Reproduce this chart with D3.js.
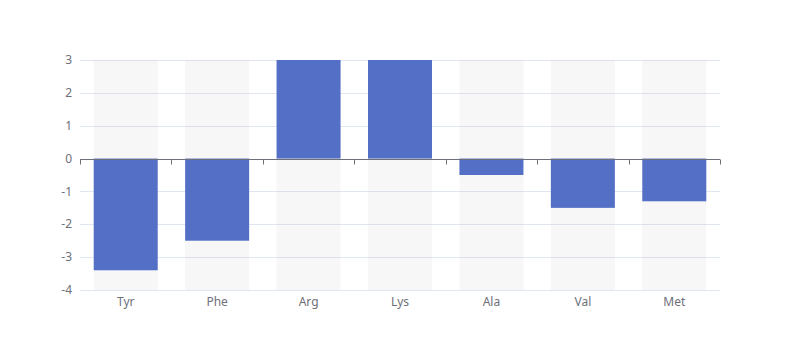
<!DOCTYPE html>
<html><head><meta charset="utf-8">
<script src="https://cdn.jsdelivr.net/npm/d3@7/dist/d3.min.js"></script>
<style>html,body{margin:0;padding:0;background:#fff;}svg{display:block;}</style>
</head><body>
<svg id="chart" width="800" height="360"></svg>
<script>
const categories = ["Tyr", "Phe", "Arg", "Lys", "Ala", "Val", "Met"];
const values = [-3.4, -2.5, 3, 3, -0.5, -1.5, -1.3];
const yTicks = [-4, -3, -2, -1, 0, 1, 2, 3];

const W = 800, H = 360, m = {left: 80, right: 80, top: 60, bottom: 70};
const svg = d3.select("#chart");
const x = d3.scaleBand().domain(categories).range([m.left, W - m.right]).paddingInner(0.3).paddingOuter(0.15);
const xb = d3.scaleBand().domain(categories).range([m.left, W - m.right]);
const y = d3.scaleLinear().domain([-4, 3]).range([H - m.bottom, m.top]);
const font = "'Microsoft YaHei', 'Noto Sans', sans-serif";

// grid lines
svg.append("g").selectAll("line").data(yTicks).join("line")
  .attr("x1", m.left).attr("x2", W - m.right)
  .attr("y1", d => Math.round(y(d)) + 0.5).attr("y2", d => Math.round(y(d)) + 0.5)
  .attr("stroke", "#E0E6F1").attr("stroke-width", 1);

// background bars
svg.append("g").selectAll("rect").data(categories).join("rect")
  .attr("x", d => x(d)).attr("width", x.bandwidth())
  .attr("y", y(3)).attr("height", y(-4) - y(3))
  .attr("fill", "rgba(180,180,180,0.1)");

// bars
svg.append("g").selectAll("rect").data(values).join("rect")
  .attr("x", (d, i) => x(categories[i])).attr("width", x.bandwidth())
  .attr("y", d => y(Math.max(0, d))).attr("height", d => Math.abs(y(d) - y(0)))
  .attr("fill", "#5470c6");

// y labels
svg.append("g").selectAll("text").data(yTicks).join("text")
  .attr("x", m.left - 8).attr("y", d => y(d)).attr("dy", "0.35em")
  .attr("text-anchor", "end").attr("font-family", font).attr("font-size", 12)
  .attr("fill", "#6E7079").text(d => d);

// x axis at zero
const y0 = Math.round(y(0)) + 0.5;
svg.append("line").attr("x1", m.left).attr("x2", W - m.right).attr("y1", y0).attr("y2", y0)
  .attr("stroke", "#6E7079").attr("stroke-width", 1);
const tickPos = categories.map(c => xb(c)).concat([W - m.right]);
svg.append("g").selectAll("line").data(tickPos).join("line")
  .attr("x1", d => Math.round(d) + 0.5).attr("x2", d => Math.round(d) + 0.5)
  .attr("y1", y0).attr("y2", y0 + 5)
  .attr("stroke", "#6E7079").attr("stroke-width", 1);

// x labels at bottom
svg.append("g").selectAll("text").data(categories).join("text")
  .attr("x", d => xb(d) + xb.bandwidth() / 2).attr("y", H - m.bottom + 12).attr("dy", "0.35em")
  .attr("text-anchor", "middle").attr("font-family", font).attr("font-size", 12)
  .attr("fill", "#6E7079").text(d => d);
</script>
</body></html>
